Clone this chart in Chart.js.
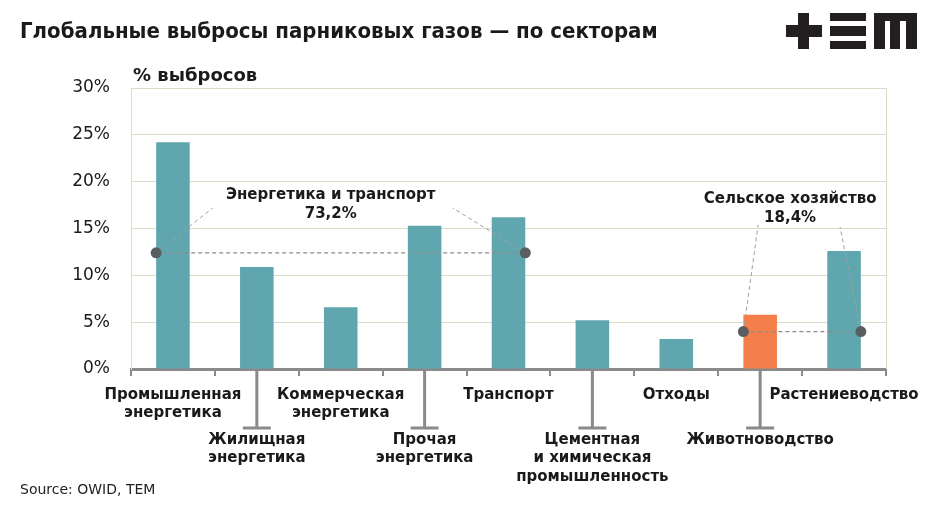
<!DOCTYPE html>
<html lang="ru">
<head>
<meta charset="utf-8">
<script src="https://cdn.jsdelivr.net/npm/chart.js@4.4.1/dist/chart.umd.min.js"></script>
<style>
  html, body { margin: 0; padding: 0; background: #fff; }
  #wrap { width: 941px; height: 518px; position: relative; }
</style>
</head>
<body>
<div id="wrap"><canvas id="chart"></canvas></div>
<script>
// --- DATA ---
const categories = [
    ['Промышленная', 'энергетика'],
    ['Жилищная', 'энергетика'],
    ['Коммерческая', 'энергетика'],
    ['Прочая', 'энергетика'],
    ['Транспорт'],
    ['Цементная', 'и химическая', 'промышленность'],
    ['Отходы'],
    ['Животноводство'],
    ['Растениеводство']
];
const emissionShare = [24.2, 10.9, 6.6, 15.3, 16.2, 5.2, 3.2, 5.8, 12.6];
const highlighted = [false, false, false, false, false, false, false, true, false];
const yMax = 30;
const yStep = 5;

// groups that get a bracket + total
const groupNames = ['Энергетика и транспорт', 'Сельское хозяйство'];
const groupTotals = ['73,2%', '18,4%'];
const groupFirst = [0, 7];
const groupLast = [4, 8];
const groupLevel = [12.4, 4.0];

const TEAL = '#5fa6af';
const ORANGE = '#f47f4b';
const INK = '#1a1a1a';
const GRID = '#d9dcc7';
const AXIS = '#8a8a8a';

// --- DECORATIONS: title, logo, labels, brackets ---
const decor = {
    id: 'decor',
    beforeDraw(chart) {
        const c = chart.ctx;
        c.save();
        c.fillStyle = '#fff';
        c.fillRect(0, 0, chart.width, chart.height);
        c.restore();
    },
    afterDatasetsDraw(chart) {
        const c = chart.ctx;
        const xs = chart.scales.x, ys = chart.scales.y;
        const half = chart.getDatasetMeta(0).data[0].width / 2;
        // label centre / diagonal ends, relative to label centre
        const lay = [
            { dx: -10, y: 195, l: [-118, 13], r: [122, 13] },
            { dx: -12, y: 199, l: [-32, 26], r: [50, 28] }
        ];
        c.save();
        groupNames.forEach((name, g) => {
            const x1 = xs.getPixelForValue(groupFirst[g]) - half;
            const x2 = xs.getPixelForValue(groupLast[g]) + half;
            const y = ys.getPixelForValue(groupLevel[g]);
            const cx = (x1 + x2) / 2 + lay[g].dx;
            const ly = lay[g].y;

            c.setLineDash([4, 3]);
            c.strokeStyle = '#8c8c8c';
            c.lineWidth = 1.3;
            c.beginPath();
            c.moveTo(x1, y); c.lineTo(x2, y);
            c.stroke();
            c.strokeStyle = '#a0a0a0';
            c.lineWidth = 1;
            c.beginPath();
            c.moveTo(x1, y); c.lineTo(cx + lay[g].l[0], ly + lay[g].l[1]);
            c.moveTo(x2, y); c.lineTo(cx + lay[g].r[0], ly + lay[g].r[1]);
            c.stroke();
            c.setLineDash([]);

            c.fillStyle = '#5b5e61';
            [x1, x2].forEach(px => {
                c.beginPath();
                c.arc(px, y, 5.5, 0, Math.PI * 2);
                c.fill();
            });

            c.fillStyle = INK;
            c.font = 'bold 15px "DejaVu Sans"';
            c.textAlign = 'center';
            c.textBaseline = 'middle';
            c.fillText(name, cx, ly);
            c.fillText(groupTotals[g], cx, ly + 19);
        });
        c.restore();
    },
    afterDraw(chart) {
        const c = chart.ctx;
        const area = chart.chartArea;
        const xs = chart.scales.x;
        c.save();

        // right border of plot
        c.strokeStyle = GRID;
        c.lineWidth = 1;
        c.beginPath();
        c.moveTo(area.right + 0.5, area.top);
        c.lineTo(area.right + 0.5, area.bottom);
        c.stroke();

        // title
        c.fillStyle = INK;
        c.textBaseline = 'middle';
        c.textAlign = 'left';
        c.font = 'bold 22px "DejaVu Sans Condensed"';
        c.fillText('Глобальные выбросы парниковых газов — по секторам', 20, 32);

        // axis caption
        c.font = 'bold 18px "DejaVu Sans"';
        c.fillText('% выбросов', 133, 76);

        // source
        c.font = '14px "DejaVu Sans"';
        c.fillStyle = '#222';
        c.fillText('Source: OWID, TEM', 20, 490);

        // logo +≡m
        c.fillStyle = '#231f20';
        c.fillRect(786, 25, 36, 12);
        c.fillRect(798, 13, 11, 36);
        c.fillRect(830, 13, 36, 8);
        c.fillRect(830, 26, 36, 10);
        c.fillRect(830, 41, 36, 8);
        c.fillRect(874, 13, 43, 8);
        c.fillRect(874, 13, 11, 36);
        c.fillRect(890, 13, 10, 36);
        c.fillRect(906, 13, 11, 36);

        // category labels, staggered with long ticks for the lower row
        c.font = 'bold 15px "DejaVu Sans"';
        c.textAlign = 'center';
        categories.forEach((lines, i) => {
            const x = xs.getPixelForValue(i);
            let y0 = area.bottom + 26;
            if (i % 2 === 1) {
                y0 = area.bottom + 71;
                c.strokeStyle = AXIS;
                c.lineWidth = 3;
                c.beginPath();
                c.moveTo(x, area.bottom);
                c.lineTo(x, area.bottom + 59);
                c.moveTo(x - 14, area.bottom + 59);
                c.lineTo(x + 14, area.bottom + 59);
                c.stroke();
            }
            c.fillStyle = INK;
            lines.forEach((t, k) => c.fillText(t, x, y0 + k * 18.5));
        });
        c.restore();
    }
};

const ctx = document.getElementById('chart').getContext('2d');
new Chart(ctx, {
    type: 'bar',
    data: {
        labels: categories.map(l => l.join(' ')),
        datasets: [{
            data: emissionShare,
            backgroundColor: highlighted.map(h => h ? ORANGE : TEAL),
            barPercentage: 0.4,
            categoryPercentage: 1.0
        }]
    },
    options: {
        responsive: true,
        maintainAspectRatio: false,
        animation: false,
        layout: { padding: { left: 0, top: 88, right: 55, bottom: 139 } },
        plugins: {
            legend: { display: false },
            tooltip: { enabled: false }
        },
        scales: {
            x: {
                afterFit: s => { s.height = 10; },
                grid: {
                    display: true,
                    offset: true,
                    drawOnChartArea: false,
                    drawTicks: true,
                    tickLength: 7,
                    color: AXIS,
                    lineWidth: 2
                },
                border: { color: AXIS, width: 3 },
                ticks: { display: false }
            },
            y: {
                min: 0,
                max: yMax,
                afterFit: s => { s.width = 131; },
                grid: { color: GRID, drawTicks: false, lineWidth: 1 },
                border: { color: GRID, width: 1 },
                ticks: {
                    stepSize: yStep,
                    padding: 21,
                    color: INK,
                    font: { family: 'DejaVu Sans', size: 17 },
                    callback: v => v + '%'
                }
            }
        }
    },
    plugins: [decor]
});
</script>
</body>
</html>
